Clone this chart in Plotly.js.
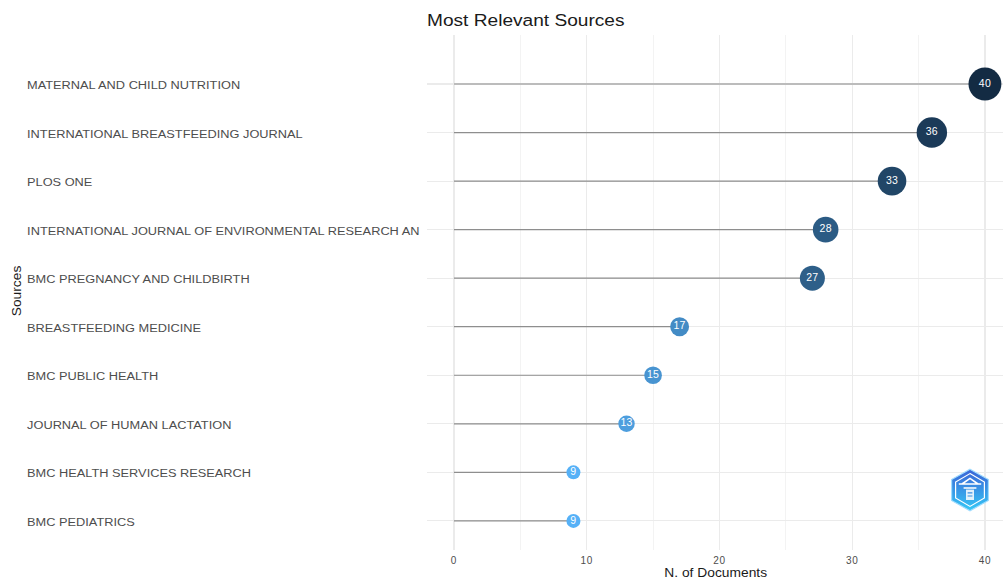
<!DOCTYPE html>
<html>
<head>
<meta charset="utf-8">
<script src="https://cdn.plot.ly/plotly-3.0.1.min.js"></script>
<style>
html,body{margin:0;padding:0;background:#fff;}
#chart{width:1003px;height:580px;}
#chart .annotation .annotation-text{transform-box:fill-box;transform-origin:left center;transform:scaleX(1.163);}
#chart .annotation[data-index="10"] .annotation-text,
#chart .annotation[data-index="11"] .annotation-text{transform-origin:center center;transform:scaleX(1.15);}
#chart .gtitle{transform-box:fill-box;transform-origin:left center;transform:scaleX(1.125);}
#chart .xtick text{letter-spacing:0.6px;}
#chart .textpoint text{letter-spacing:0.3px;}
</style>
</head>
<body>
<div id="chart"></div>
<script>
// Data (top to bottom as shown)
const sources = [
  "MATERNAL AND CHILD NUTRITION",
  "INTERNATIONAL BREASTFEEDING JOURNAL",
  "PLOS ONE",
  "INTERNATIONAL JOURNAL OF ENVIRONMENTAL RESEARCH AN",
  "BMC PREGNANCY AND CHILDBIRTH",
  "BREASTFEEDING MEDICINE",
  "BMC PUBLIC HEALTH",
  "JOURNAL OF HUMAN LACTATION",
  "BMC HEALTH SERVICES RESEARCH",
  "BMC PEDIATRICS"
];
const documents = [40, 36, 33, 28, 27, 17, 15, 13, 9, 9];
const xTicks = [0, 10, 20, 30, 40];

// bottom-to-top order for the category axis
const cats = sources.slice().reverse();
const vals = documents.slice().reverse();

const stemX = [], stemY = [];
cats.forEach((c, i) => { stemX.push(0, vals[i], null); stemY.push(c, c, null); });

const vmin = Math.min(...vals), vmax = Math.max(...vals);
const sizes = vals.map(v => 8.5 + 0.61 * v);

const stems = {
  type: 'scatter', mode: 'lines', x: stemX, y: stemY,
  line: {color: '#8e8e8e', width: 1.2}, hoverinfo: 'skip', showlegend: false
};
const dots = {
  type: 'scatter', mode: 'markers+text', x: vals, y: cats,
  text: vals.map(String), textposition: 'middle center',
  textfont: {family: 'Liberation Sans, Arial, sans-serif', size: 10.5, color: '#ffffff'},
  marker: {
    size: sizes, color: vals, cmin: vmin, cmax: vmax,
    colorscale: [[0, '#56B1F7'], [0.25, '#448CC6'], [0.5, '#336A98'], [0.75, '#22496B'], [1, '#132B43']],
    line: {width: 0}, opacity: 1
  },
  hoverinfo: 'skip', showlegend: false, cliponaxis: false
};

const annotations = cats.map(c => ({
  xref: 'paper', yref: 'y', x: (25 - 427) / 576, y: c, xanchor: 'left', yanchor: 'middle',
  yshift: -1, text: c, showarrow: false,
  font: {family: 'Liberation Sans, Arial, sans-serif', size: 11, color: '#4d4d4d'}
}));
annotations.push({
  xref: 'paper', yref: 'paper', x: (17 - 427) / 576, y: (550 - 291) / 515,
  xanchor: 'center', yanchor: 'middle', textangle: -90, text: 'Sources', showarrow: false,
  font: {family: 'Liberation Sans, Arial, sans-serif', size: 12, color: '#1a1a1a'}
});
annotations.push({
  xref: 'paper', yref: 'paper', x: 0.5, y: (550 - 573) / 515,
  xanchor: 'center', yanchor: 'middle', text: 'N. of Documents', showarrow: false,
  font: {family: 'Liberation Sans, Arial, sans-serif', size: 12, color: '#1a1a1a'}
});

const logoSvg = '<svg xmlns="http://www.w3.org/2000/svg" viewBox="0 0 100 110">' +
  '<defs><linearGradient id="g" x1="0" y1="0" x2="0" y2="1">' +
  '<stop offset="0" stop-color="#3b63d6"/><stop offset="1" stop-color="#35c9f6"/></linearGradient></defs>' +
  '<polygon points="50,3 96,29 96,81 50,107 4,81 4,29" fill="url(#g)" stroke="#9fdcff" stroke-width="3"/>' +
  '<polygon points="50,14 86,35 86,75 50,96 14,75 14,35" fill="none" stroke="#ffffff" stroke-width="3"/>' +
  '<path d="M22 40 L78 40 M30 40 L50 26 L70 40 M34 50 L66 50" stroke="#ffffff" stroke-width="4" fill="none"/>' +
  '<rect x="40" y="54" width="20" height="26" fill="#ffffff" opacity="0.85"/>' +
  '<path d="M44 62 L56 62 M44 70 L56 70" stroke="#3b8fe0" stroke-width="3"/>' +
  '</svg>';
const logoUri = 'data:image/svg+xml;base64,' + btoa(logoSvg);

const layout = {
  width: 1003, height: 580,
  margin: {l: 427, r: 0, t: 35, b: 30},
  paper_bgcolor: '#ffffff', plot_bgcolor: '#ffffff',
  title: {
    text: 'Most Relevant Sources', xref: 'paper', x: 0, xanchor: 'left',
    yref: 'container', y: 1 - 20 / 580, yanchor: 'middle',
    font: {family: 'Liberation Sans, Arial, sans-serif', size: 17, color: '#1a1a1a'}
  },
  xaxis: {
    range: [-2.03, 41.36], tickvals: xTicks, ticktext: xTicks.map(String),
    showgrid: true, gridcolor: '#ebebeb', gridwidth: 1.1,
    minor: {dtick: 5, tick0: 0, showgrid: true, gridcolor: '#f0f0f0', gridwidth: 0.8},
    zeroline: false, showline: false, ticks: '', ticklabelstandoff: 3,
    tickfont: {family: 'Liberation Sans, Arial, sans-serif', size: 10, color: '#4d4d4d'},
    fixedrange: true
  },
  yaxis: {
    type: 'category', categoryorder: 'array', categoryarray: cats,
    range: [-0.6, 10.01], showticklabels: false,
    showgrid: true, gridcolor: '#ebebeb', gridwidth: 1.1,
    zeroline: false, showline: false, ticks: '', fixedrange: true
  },
  annotations: annotations,
  images: [{
    source: logoUri, xref: 'paper', yref: 'paper',
    x: (970 - 427) / 576, y: (550 - 490) / 515, sizex: 40 / 576, sizey: 44 / 515,
    xanchor: 'center', yanchor: 'middle', sizing: 'contain', layer: 'above'
  }],
  showlegend: false
};

Plotly.newPlot('chart', [stems, dots], layout, {displayModeBar: false, staticPlot: true});
</script>
</body>
</html>
